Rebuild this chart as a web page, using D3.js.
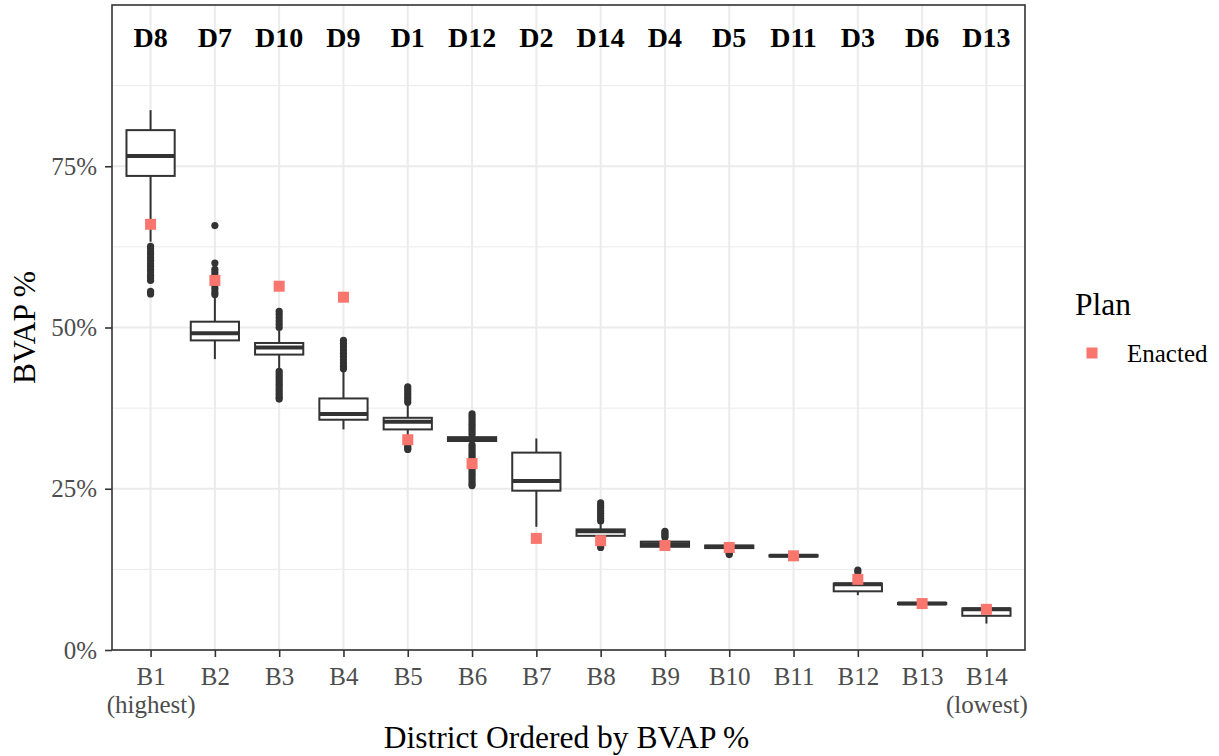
<!DOCTYPE html>
<html>
<head>
<meta charset="utf-8">
<script src="https://cdn.jsdelivr.net/npm/d3@7"></script>
<style>
  html, body { margin: 0; padding: 0; background: #fff; }
  svg { display: block; }
  text { font-family: "Liberation Serif", "Times New Roman", serif; }
</style>
</head>
<body>
<svg id="chart" width="1219" height="756"></svg>
<script>
// Ordered districts (by BVAP %), and the enacted-plan district that sits in each slot
const categories = ["B1","B2","B3","B4","B5","B6","B7","B8","B9","B10","B11","B12","B13","B14"];
const categoryNotes = {"B1": "(highest)", "B14": "(lowest)"};
const districts = ["D8","D7","D10","D9","D1","D12","D2","D14","D4","D5","D11","D3","D6","D13"];

// Box summaries across the simulated plans (BVAP %)
const whiskerLow  = [63.3, 45.1, 43.6, 34.2, 32.8, 32.2, 19.1, 17.1, 15.8, 15.6, 14.4,  8.5, 7.0, 4.1];
const q1          = [73.5, 48.0, 45.8, 35.7, 34.2, 32.4, 24.7, 17.7, 16.0, 15.8, 14.5,  9.1, 7.1, 5.3];
const median      = [76.6, 49.1, 46.9, 36.6, 35.4, 32.7, 26.2, 18.4, 16.4, 16.0, 14.6, 10.2, 7.2, 6.3];
const q3          = [80.6, 50.9, 47.6, 39.0, 36.0, 33.0, 30.6, 18.7, 16.8, 16.2, 14.7, 10.3, 7.3, 6.45];
const whiskerHigh = [83.7, 54.8, 49.5, 43.3, 38.0, 33.2, 32.8, 19.6, 17.0, 16.3, 14.8, 11.4, 7.4, 6.8];

// Outlying plans per slot
const outliers = [
  [62.6, 62.2, 61.7, 61.3, 60.8, 60.4, 59.9, 59.5, 59.0, 58.6, 58.1, 57.7, 57.3, 55.6, 55.2],
  [65.8, 60.0, 59.0, 58.5, 58.0, 57.5, 57.0, 56.5, 56.0, 55.5, 55.1],
  [52.5, 52.0, 51.5, 51.0, 50.5, 50.0, 43.2, 42.8, 42.4, 42.0, 41.6, 41.2, 40.8, 40.4, 40.0, 39.6, 39.2, 38.9],
  [48.0, 47.5, 47.0, 46.5, 46.0, 45.5, 45.0, 44.5, 44.0, 43.6],
  [40.8, 40.4, 40.0, 39.6, 39.2, 38.8, 38.4, 32.4, 32.0, 31.6, 31.3, 31.1],
  [36.6, 36.2, 35.8, 35.4, 35.0, 34.6, 34.2, 33.8, 33.4, 31.8, 31.4, 31.0, 30.6, 30.2, 29.8, 29.4, 29.0, 28.6, 28.2, 27.8, 27.4, 27.0, 26.6, 26.2, 25.8, 25.5],
  [],
  [22.8, 22.4, 22.0, 21.6, 21.2, 20.8, 20.4, 20.0, 16.8, 16.5, 16.2, 15.9],
  [18.4, 18.1, 17.8, 17.5],
  [15.0, 14.8],
  [],
  [12.4, 12.1],
  [],
  []
];

// Enacted plan BVAP % per slot
const enacted = [66.0, 57.3, 56.4, 54.7, 32.6, 28.9, 17.3, 16.95, 16.2, 15.9, 14.6, 10.95, 7.2, 6.3];

const yTicks = [0, 25, 50, 75];
const yMinor = [12.5, 37.5, 62.5, 87.5];

const panel = { left: 112, right: 1025, top: 5, bottom: 650 };
const ink = "#333333";
const enactedColor = "#F8766D";

const svg = d3.select("#chart");

const x = d3.scalePoint().domain(categories).range([panel.left, panel.right]).padding(0.6);
const y = d3.scaleLinear().domain([0, 100]).range([panel.bottom, panel.top]);
const boxW = x.step() * 0.75;

// panel background and grid
svg.append("rect").attr("x", panel.left).attr("y", panel.top)
  .attr("width", panel.right - panel.left).attr("height", panel.bottom - panel.top)
  .attr("fill", "#fff");

const grid = svg.append("g");
grid.selectAll("line.minor").data(yMinor).join("line")
  .attr("x1", panel.left).attr("x2", panel.right)
  .attr("y1", d => y(d)).attr("y2", d => y(d))
  .attr("stroke", "#EBEBEB").attr("stroke-width", 1);
grid.selectAll("line.major").data(yTicks).join("line")
  .attr("x1", panel.left).attr("x2", panel.right)
  .attr("y1", d => y(d)).attr("y2", d => y(d))
  .attr("stroke", "#EBEBEB").attr("stroke-width", 2);
grid.selectAll("line.vert").data(categories).join("line")
  .attr("x1", d => x(d)).attr("x2", d => x(d))
  .attr("y1", panel.top).attr("y2", panel.bottom)
  .attr("stroke", "#EBEBEB").attr("stroke-width", 2);

// boxplots
const rows = categories.map((c, i) => ({
  c, lo: whiskerLow[i], q1: q1[i], med: median[i], q3: q3[i], hi: whiskerHigh[i], out: outliers[i]
}));

const boxes = svg.append("g").selectAll("g").data(rows).join("g");
boxes.append("line")
  .attr("x1", d => x(d.c)).attr("x2", d => x(d.c))
  .attr("y1", d => y(d.q3)).attr("y2", d => y(d.hi))
  .attr("stroke", ink).attr("stroke-width", 2);
boxes.append("line")
  .attr("x1", d => x(d.c)).attr("x2", d => x(d.c))
  .attr("y1", d => y(d.q1)).attr("y2", d => y(d.lo))
  .attr("stroke", ink).attr("stroke-width", 2);
boxes.append("rect")
  .attr("x", d => x(d.c) - boxW / 2).attr("width", boxW)
  .attr("y", d => y(d.q3)).attr("height", d => y(d.q1) - y(d.q3))
  .attr("fill", "#fff").attr("stroke", ink).attr("stroke-width", 2);
boxes.append("line")
  .attr("x1", d => x(d.c) - boxW / 2).attr("x2", d => x(d.c) + boxW / 2)
  .attr("y1", d => y(d.med)).attr("y2", d => y(d.med))
  .attr("stroke", ink).attr("stroke-width", 4);
boxes.selectAll("circle").data(d => d.out.map(v => ({ c: d.c, v }))).join("circle")
  .attr("cx", d => x(d.c)).attr("cy", d => y(d.v)).attr("r", 3.6)
  .attr("fill", ink);

// enacted plan points
svg.append("g").selectAll("rect").data(categories.map((c, i) => ({ c, v: enacted[i] }))).join("rect")
  .attr("x", d => x(d.c) - 5.5).attr("y", d => y(d.v) - 5.5)
  .attr("width", 11).attr("height", 11)
  .attr("fill", enactedColor);

// district labels along the top
svg.append("g").selectAll("text").data(categories.map((c, i) => ({ c, d: districts[i] }))).join("text")
  .attr("x", d => x(d.c)).attr("y", y(95)).attr("dy", "0.36em")
  .attr("text-anchor", "middle")
  .attr("font-size", 28).attr("font-weight", "bold").attr("fill", "#000")
  .text(d => d.d);

// panel border
svg.append("rect").attr("x", panel.left).attr("y", panel.top)
  .attr("width", panel.right - panel.left).attr("height", panel.bottom - panel.top)
  .attr("fill", "none").attr("stroke", ink).attr("stroke-width", 1.6);

// y axis
const yAxis = svg.append("g").attr("transform", `translate(${panel.left},0)`)
  .call(d3.axisLeft(y).tickValues(yTicks).tickFormat(d => d + "%").tickSize(7).tickPadding(8));
yAxis.select(".domain").remove();
yAxis.selectAll(".tick line").attr("stroke", ink).attr("stroke-width", 1.6);
yAxis.selectAll(".tick text").attr("font-size", 25).attr("fill", "#4D4D4D")
  .attr("font-family", "Liberation Serif, Times New Roman, serif");

// x axis
const xAxis = svg.append("g").attr("transform", `translate(0,${panel.bottom})`)
  .call(d3.axisBottom(x).tickSize(7).tickPadding(8));
xAxis.select(".domain").remove();
xAxis.selectAll(".tick line").attr("stroke", ink).attr("stroke-width", 1.6);
xAxis.selectAll(".tick text").remove();
xAxis.selectAll(".tick").each(function(d) {
  const t = d3.select(this).append("text")
    .attr("text-anchor", "middle").attr("fill", "#4D4D4D").attr("font-size", 25)
    .attr("font-family", "Liberation Serif, Times New Roman, serif");
  t.append("tspan").attr("x", 0).attr("y", 35).text(d);
  if (categoryNotes[d]) t.append("tspan").attr("x", 0).attr("y", 63).text(categoryNotes[d]);
});

// axis titles
svg.append("text").attr("x", (panel.left + panel.right) / 2 - 2).attr("y", 748)
  .attr("text-anchor", "middle").attr("font-size", 31.5).attr("fill", "#000")
  .text("District Ordered by BVAP %");
svg.append("text").attr("transform", `translate(35,${(panel.top + panel.bottom) / 2}) rotate(-90)`)
  .attr("text-anchor", "middle").attr("font-size", 31.5).attr("fill", "#000")
  .text("BVAP %");

// legend
const legend = svg.append("g");
legend.append("text").attr("x", 1075).attr("y", 315)
  .attr("font-size", 31.5).attr("fill", "#000").text("Plan");
legend.append("rect").attr("x", 1086.5).attr("y", 347.5).attr("width", 11).attr("height", 11)
  .attr("fill", enactedColor);
legend.append("text").attr("x", 1127).attr("y", 362)
  .attr("font-size", 25).attr("fill", "#000").text("Enacted");
</script>
</body>
</html>
